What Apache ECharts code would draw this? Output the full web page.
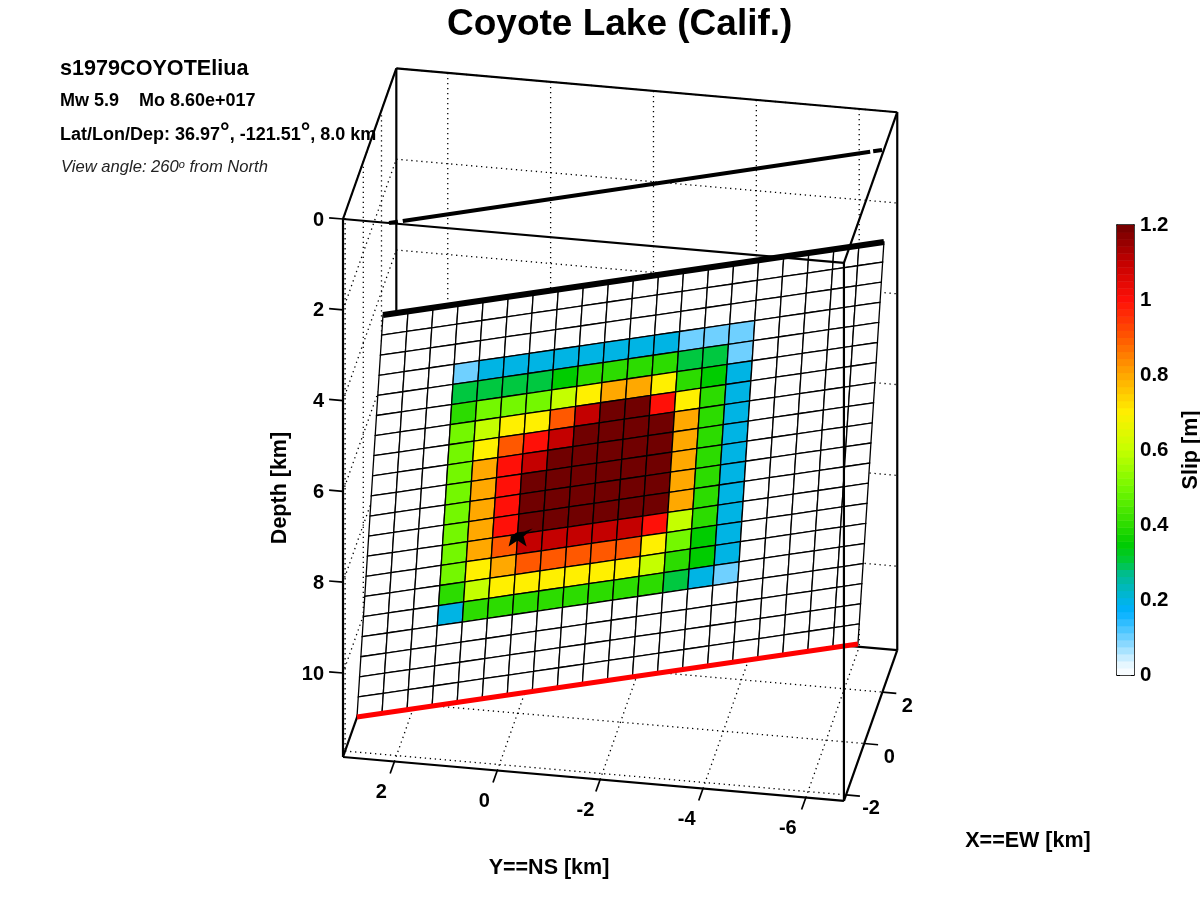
<!DOCTYPE html>
<html>
<head>
<meta charset="utf-8">
<style>html,body{margin:0;padding:0;background:#fff}#c{width:1200px;height:900px}</style>
<script src="https://cdn.jsdelivr.net/npm/echarts@6/dist/echarts.min.js"></script>
</head>
<body>
<div id="c"></div>
<script>
const titleText = 'Coyote Lake (Calif.)';
const eventName = 's1979COYOTEliua';
const nsTicks = [2, 0, -2, -4, -6];
const ewTicks = [-2, 0, 2];
const depthTicks = [0, 2, 4, 6, 8, 10];
const nsRange = [-6.74, 3];
const ewRange = [-2.23, 3.63];
const depthRange = [0, 11.85];
const hypocenter = [0, 0, 8];
const slipRows = [
 [0,0,0,0,0,0,0,0,0,0,0,0,0,0,0,0,0,0,0,0],
 [0,0,0,0,0,0,0,0,0,0,0,0,0,0,0,0,0,0,0,0],
 [0,0,0,0,0,0,0,0,0,0,0,0,0,0,0,0,0,0,0,0],
 [0,0,0,.1,.2,.2,.2,.2,.2,.2,.2,.2,.1,.1,.1,0,0,0,0,0],
 [0,0,0,.3,.3,.3,.3,.35,.4,.4,.4,.4,.3,.3,.1,0,0,0,0,0],
 [0,0,0,.4,.5,.5,.5,.6,.7,.8,.8,.7,.4,.35,.2,0,0,0,0,0],
 [0,0,0,.5,.6,.7,.7,.9,1.1,1.2,1.2,1,.7,.4,.2,0,0,0,0,0],
 [0,0,0,.5,.7,.9,1,1.1,1.2,1.2,1.2,1.2,.8,.4,.2,0,0,0,0,0],
 [0,0,0,.5,.8,1,1.1,1.2,1.2,1.2,1.2,1.2,.8,.4,.2,0,0,0,0,0],
 [0,0,0,.5,.8,1,1.2,1.2,1.2,1.2,1.2,1.2,.8,.4,.2,0,0,0,0,0],
 [0,0,0,.5,.8,1,1.2,1.2,1.2,1.2,1.2,1.2,.8,.4,.2,0,0,0,0,0],
 [0,0,0,.5,.8,1,1.2,1.2,1.2,1.2,1.2,1.2,.8,.4,.2,0,0,0,0,0],
 [0,0,0,.5,.8,.9,1.1,1.1,1.1,1.1,1.1,1,.6,.4,.2,0,0,0,0,0],
 [0,0,0,.5,.7,.8,.9,.9,.9,.9,.9,.7,.5,.35,.2,0,0,0,0,0],
 [0,0,0,.4,.6,.7,.7,.7,.7,.7,.7,.6,.4,.35,.2,0,0,0,0,0],
 [0,0,0,.2,.4,.4,.4,.4,.4,.4,.4,.4,.3,.2,.1,0,0,0,0,0],
 [0,0,0,0,0,0,0,0,0,0,0,0,0,0,0,0,0,0,0,0],
 [0,0,0,0,0,0,0,0,0,0,0,0,0,0,0,0,0,0,0,0],
 [0,0,0,0,0,0,0,0,0,0,0,0,0,0,0,0,0,0,0,0],
 [0,0,0,0,0,0,0,0,0,0,0,0,0,0,0,0,0,0,0,0]
];
const cmapValues = [0, .03, .1, .17, .2, .27, .3, .35, .4, .5, .6, .7, .8, .9, 1, 1.1, 1.2];
const cmapColors = ['#ffffff','#e4f6ff','#6fd0ff','#00b0ff','#00b4e4','#00bc90','#00c840','#00cc00','#2cdc00','#74f800','#c4ff00','#fff000','#ffa800','#ff5800','#ff1008','#c40000','#700000'];
const colorbarLevels = 64;
const colorbarMax = 1.2;

// Viewing geometry: screen position of a point (ns, ew, depth) in km
const view = {ox: 343, oy: 219, nsRef: 3, ewRef: -2.23,
  nsX: -51.43, nsY: -4.5, ewX: 9.1, ewY: -25.7, depthY: 45.4};
function project(n, e, d) {
  return [view.ox + view.nsX * (n - view.nsRef) + view.ewX * (e - view.ewRef),
          view.oy + view.nsY * (n - view.nsRef) + view.ewY * (e - view.ewRef) + view.depthY * d];
}
// Fault plane: corner, along-strike and down-dip vectors (km)
const fault = {n: 2.211, e: -2.294, d: 2, sn: -8.96, se: 4.41, dn: .783, de: 1.566, dd: 9.82};
function faultPoint(c, r) {
  const nc = slipRows[0].length, nr = slipRows.length;
  const u = c / nc, v = r / nr;
  return [fault.n + fault.sn * u + fault.dn * v,
          fault.e + fault.se * u + fault.de * v,
          fault.d + fault.dd * v];
}
function hexRgb(h) { return [1,3,5].map(i => parseInt(h.substr(i, 2), 16)); }
function slipColor(v) {
  let i = 0;
  while (i < cmapValues.length - 2 && v > cmapValues[i + 1]) i++;
  const t = Math.min(1, Math.max(0, (v - cmapValues[i]) / (cmapValues[i + 1] - cmapValues[i])));
  const a = hexRgb(cmapColors[i]), b = hexRgb(cmapColors[i + 1]);
  return 'rgb(' + a.map((x, k) => Math.round(x + (b[k] - x) * t)).join(',') + ')';
}
const [nMin, nMax] = nsRange, [eMin, eMax] = ewRange, [dMin, dMax] = depthRange;
const FONT = '"Liberation Sans", Arial, sans-serif';

function seg(a, b) { return a.concat(b); }
const dotted = [];
nsTicks.forEach(n => {
  dotted.push(seg([n, eMax, dMin], [n, eMax, dMax]));
  dotted.push(seg([n, eMin, dMax], [n, eMax, dMax]));
});
ewTicks.forEach(e => {
  dotted.push(seg([nMax, e, dMin], [nMax, e, dMax]));
  dotted.push(seg([nMax, e, dMax], [nMin, e, dMax]));
});
depthTicks.forEach(d => {
  dotted.push(seg([nMax, eMax, d], [nMin, eMax, d]));
  dotted.push(seg([nMax, eMin, d], [nMax, eMax, d]));
});
const backBox = [
  seg([nMax, eMax, dMin], [nMax, eMax, dMax]),
  seg([nMax, eMax, dMin], [nMin, eMax, dMin]),
  seg([nMin, eMax, dMin], [nMin, eMax, dMax]),
  seg([nMax, eMax, dMax], [nMin, eMax, dMax]),
  seg([nMax, eMin, dMax], [nMax, eMax, dMax]),
  seg([nMax, eMin, dMin], [nMax, eMax, dMin])
];
const frontBox = [
  seg([nMax, eMin, dMin], [nMax, eMin, dMax]),
  seg([nMax, eMin, dMax], [nMin, eMin, dMax]),
  seg([nMin, eMin, dMax], [nMin, eMin, dMin]),
  seg([nMin, eMin, dMin], [nMax, eMin, dMin]),
  seg([nMin, eMax, dMin], [nMin, eMin, dMin]),
  seg([nMin, eMax, dMax], [nMin, eMin, dMax])
];
const tickSegs = [];
nsTicks.forEach(n => tickSegs.push(seg([n, eMin, dMax], [n, eMin - .47, dMax])));
ewTicks.forEach(e => tickSegs.push(seg([nMin, e, dMax], [nMin - .27, e, dMax])));
depthTicks.forEach(d => tickSegs.push(seg([nMax, eMin, d], [nMax + .27, eMin, d])));

const topEdge = [seg(faultPoint(0, 0), faultPoint(slipRows[0].length, 0))];
const bottomEdge = [seg(faultPoint(0, slipRows.length), faultPoint(slipRows[0].length, slipRows.length))];
// Surface trace of the fault, with a short dash at each end
const traceEnds = [[2.106, -2.23, 0], [-6.705, 2.155, 0]];
const traceParts = [[0, .018], [.028, .976], [.982, 1]];
function tracePoint(t) { return traceEnds[0].map((x, k) => x + (traceEnds[1][k] - x) * t); }
const traceSegs = traceParts.map(p => seg(tracePoint(p[0]), tracePoint(p[1])));

const cells = [];
slipRows.forEach((row, r) => row.forEach((v, c) => cells.push([c, r, v])));

function lineSeries(segs, style, z) {
  return {
    type: 'custom', xAxisIndex: 0, yAxisIndex: 0, silent: true, clip: false, z: z, animation: false,
    data: segs,
    dimensions: ['a','b','c','d','e','f'],
    encode: {x: 0, y: 1},
    renderItem: (p, api) => {
      const a = api.coord(project(api.value(0), api.value(1), api.value(2)));
      const b = api.coord(project(api.value(3), api.value(4), api.value(5)));
      return {type: 'line', shape: {x1: a[0], y1: a[1], x2: b[0], y2: b[1]},
              style: Object.assign({stroke: '#000', fill: null}, style)};
    }
  };
}
function labelSeries(items, z) {
  return {
    type: 'custom', xAxisIndex: 0, yAxisIndex: 0, silent: true, clip: false, z: z, animation: false,
    data: items.map(t => [t.n, t.e, t.d]),
    encode: {x: 0, y: 1},
    renderItem: (p, api) => {
      const t = items[p.dataIndex];
      const a = api.coord(project(api.value(0), api.value(1), api.value(2)));
      return {type: 'text', x: a[0] + t.dx, y: a[1] + t.dy,
        style: {text: String(t.text), fill: '#000', font: 'bold 20px ' + FONT, align: t.align || 'center', verticalAlign: 'middle'}};
    }
  };
}
const tickLabels = [];
nsTicks.forEach(n => tickLabels.push({n: n, e: eMin, d: dMax, text: n, dx: -13 + Math.min(n, 0) * .85, dy: 31}));
ewTicks.forEach(e => tickLabels.push({n: nMin, e: e, d: dMax, text: e, dx: 25, dy: 14}));
depthTicks.forEach(d => tickLabels.push({n: nMax, e: eMin, d: d, text: d, dx: -19, dy: 1, align: 'right'}));

const bands = [];
for (let i = 0; i < colorbarLevels; i++) bands.push([i]);

const option = {
  animation: false,
  backgroundColor: '#fff',
  title: [{text: titleText, left: 442, top: 1,
    textStyle: {fontFamily: FONT, fontWeight: 'bold', fontSize: 37, color: '#000'}}],
  grid: [
    {left: 0, top: 0, width: 1200, height: 900, show: false},
    {left: 1117, top: 225, width: 17, height: 450, show: false}
  ],
  xAxis: [
    {type: 'value', gridIndex: 0, min: 0, max: 1200, show: false},
    {type: 'value', gridIndex: 1, min: 0, max: 1, show: true, position: 'top',
      axisLabel: {show: false}, axisTick: {show: false}, splitLine: {show: false},
      axisLine: {show: true, onZero: false, lineStyle: {color: '#000', width: 1.5}}},
    {type: 'value', gridIndex: 1, min: 0, max: 1, show: true, position: 'bottom',
      axisLabel: {show: false}, axisTick: {show: false}, splitLine: {show: false},
      axisLine: {show: true, onZero: false, lineStyle: {color: '#000', width: 1.5}}}
  ],
  yAxis: [
    {type: 'value', gridIndex: 0, min: 0, max: 900, inverse: true, show: false},
    {type: 'value', gridIndex: 1, min: 0, max: colorbarMax, interval: .2, position: 'right',
      axisLine: {show: true, onZero: false, lineStyle: {color: '#000', width: 1.5}},
      axisTick: {show: true, inside: true, length: 3, lineStyle: {color: '#000', width: 1}},
      splitLine: {show: false},
      axisLabel: {show: true, margin: 6, color: '#000', fontFamily: FONT, fontWeight: 'bold', fontSize: 20.5}},
    {type: 'value', gridIndex: 1, min: 0, max: colorbarMax, interval: .2, position: 'left',
      axisLine: {show: true, onZero: false, lineStyle: {color: '#000', width: 1.5}},
      axisTick: {show: true, inside: true, length: 3, lineStyle: {color: '#000', width: 1}},
      splitLine: {show: false}, axisLabel: {show: false}}
  ],
  series: [
    lineSeries(dotted, {lineWidth: 1.3, lineDash: [1.3, 3.7]}, 1),
    lineSeries(backBox, {lineWidth: 2.2}, 2),
    lineSeries(traceSegs, {lineWidth: 4}, 3),
    {
      type: 'custom', xAxisIndex: 0, yAxisIndex: 0, silent: true, clip: false, z: 4, animation: false,
      data: cells, encode: {x: 0, y: 1},
      renderItem: (p, api) => {
        const c = api.value(0), r = api.value(1), v = api.value(2);
        const pts = [[c, r], [c + 1, r], [c + 1, r + 1], [c, r + 1]].map(q => {
          const f = faultPoint(q[0], q[1]);
          return api.coord(project(f[0], f[1], f[2]));
        });
        return {type: 'polygon', shape: {points: pts}, style: {fill: slipColor(v), stroke: '#000', lineWidth: 1.3}};
      }
    },
    lineSeries(topEdge, {lineWidth: 6}, 5),
    lineSeries(bottomEdge, {lineWidth: 5, stroke: '#ff0000'}, 5),
    {
      type: 'custom', xAxisIndex: 0, yAxisIndex: 0, silent: true, clip: false, z: 6, animation: false,
      data: [hypocenter], encode: {x: 0, y: 1},
      renderItem: (p, api) => {
        const a = api.coord(project(api.value(0), api.value(1), api.value(2)));
        const star = [[-1,-6],[7,-7],[15,-10],[6,-2],[9,8],[0,2],[-9,8],[-7,0],[-7,-2]];
        return {type: 'polygon', shape: {points: star.map(s => [a[0] + s[0], a[1] + s[1]])}, style: {fill: '#000'}};
      }
    },
    lineSeries(frontBox, {lineWidth: 2.2}, 7),
    lineSeries(tickSegs, {lineWidth: 1.7}, 7),
    labelSeries(tickLabels, 8),
    {
      type: 'custom', xAxisIndex: 1, yAxisIndex: 1, silent: true, clip: true, z: 1, animation: false,
      data: bands, encode: {y: 0},
      renderItem: (p, api) => {
        const i = api.value(0), step = colorbarMax / colorbarLevels;
        const lo = api.coord([0, i * step]), hi = api.coord([1, (i + 1) * step]);
        return {type: 'rect', shape: {x: lo[0], y: hi[1], width: hi[0] - lo[0], height: lo[1] - hi[1] + .5},
                style: {fill: slipColor((i + .5) * step)}};
      }
    }
  ],
  graphic: [
    {type: 'text', x: 60, y: 58, z: 0, style: {text: eventName, fill: '#000', font: 'bold 21.6px ' + FONT}},
    {type: 'text', x: 60, y: 92, z: 0, style: {text: 'Mw 5.9    Mo 8.60e+017', fill: '#000', font: 'bold 18px ' + FONT}},
    {type: 'text', x: 60, y: 120, z: 0, style: {
      text: '{b|Lat/Lon/Dep: 36.97}{d|°}{b|, -121.51}{d|°}{b|, 8.0 km}', fill: '#000',
      rich: {b: {font: 'bold 18px ' + FONT, fill: '#000', verticalAlign: 'bottom'},
             d: {font: 'bold 24px ' + FONT, fill: '#000', verticalAlign: 'bottom'}}}},
    {type: 'text', x: 61, y: 159, z: 0, style: {
      text: '{i|View angle: 260}{s|o}{i| from North}',
      rich: {i: {font: 'italic 16.6px ' + FONT, fill: '#222', verticalAlign: 'bottom'},
             s: {font: 'italic 11px ' + FONT, fill: '#222', verticalAlign: 'top'}}}},
    {type: 'text', x: 280, y: 488, rotation: Math.PI / 2, style: {text: 'Depth [km]', fill: '#000', font: 'bold 21.5px ' + FONT, align: 'center', verticalAlign: 'middle'}},
    {type: 'text', x: 549, y: 868, style: {text: 'Y==NS [km]', fill: '#000', font: 'bold 21.5px ' + FONT, align: 'center', verticalAlign: 'middle'}},
    {type: 'text', x: 1028, y: 841, style: {text: 'X==EW [km]', fill: '#000', font: 'bold 21.5px ' + FONT, align: 'center', verticalAlign: 'middle'}},
    {type: 'text', x: 1191, y: 450, rotation: Math.PI / 2, style: {text: 'Slip [m]', fill: '#000', font: 'bold 21.5px ' + FONT, align: 'center', verticalAlign: 'middle'}}
  ]
};
const chart = echarts.init(document.getElementById('c'), null, {renderer: 'canvas', width: 1200, height: 900});
chart.setOption(option);
</script>
</body>
</html>
